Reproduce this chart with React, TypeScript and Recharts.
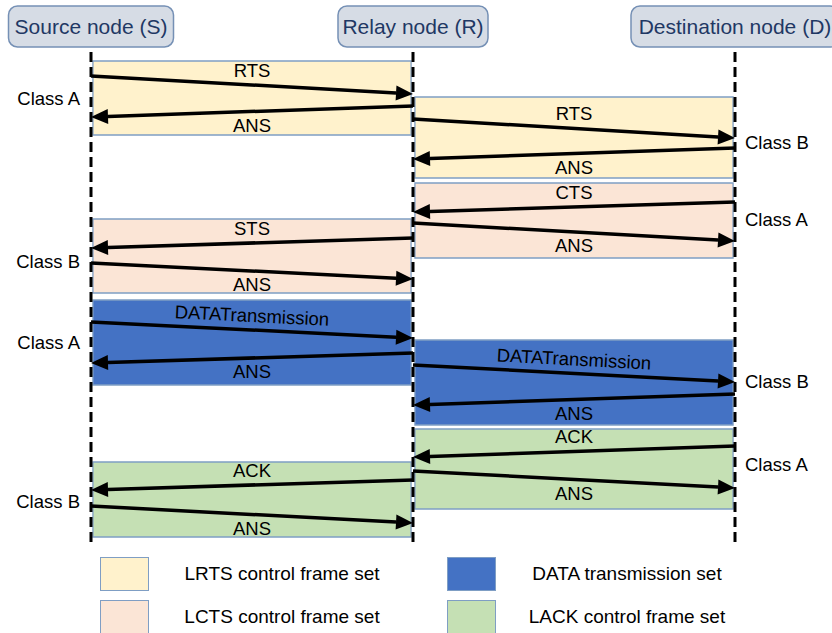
import React from "react";
import {
  ComposedChart,
  XAxis,
  YAxis,
  ReferenceArea,
  ReferenceLine,
  Scatter,
  Legend,
} from "recharts";

const FONT = "'Liberation Sans', Arial, sans-serif";

// lifelines, left to right
const nodes = ["Source node (S)", "Relay node (R)", "Destination node (D)"];

// legend entries (frame sets)
const setKeys = ["LRTS", "LCTS", "DATA", "LACK"];
const setNames = [
  "LRTS control frame set",
  "LCTS control frame set",
  "DATA transmission set",
  "LACK control frame set",
];

// one shaded box per exchange, time runs downwards
const exchanges = [
  { set: "LRTS", from: 0, to: 1, start: 61, end: 135 },
  { set: "LRTS", from: 1, to: 2, start: 97, end: 178 },
  { set: "LCTS", from: 1, to: 2, start: 183, end: 258 },
  { set: "LCTS", from: 0, to: 1, start: 219, end: 293 },
  { set: "DATA", from: 0, to: 1, start: 300, end: 385 },
  { set: "DATA", from: 1, to: 2, start: 340, end: 425 },
  { set: "LACK", from: 1, to: 2, start: 429, end: 509 },
  { set: "LACK", from: 0, to: 1, start: 462, end: 537 },
];

// messages: exchange index, sender, receiver, send time, receive time
const messages = [
  { ex: 0, from: 0, to: 1, sent: 76, recv: 94, label: "RTS" },
  { ex: 0, from: 1, to: 0, sent: 106, recv: 117, label: "ANS" },
  { ex: 1, from: 1, to: 2, sent: 119, recv: 138, label: "RTS" },
  { ex: 1, from: 2, to: 1, sent: 148, recv: 159, label: "ANS" },
  { ex: 2, from: 2, to: 1, sent: 202, recv: 212, label: "CTS" },
  { ex: 2, from: 1, to: 2, sent: 223, recv: 241, label: "ANS" },
  { ex: 3, from: 1, to: 0, sent: 238, recv: 248, label: "STS" },
  { ex: 3, from: 0, to: 1, sent: 263, recv: 279, label: "ANS" },
  { ex: 4, from: 0, to: 1, sent: 322, recv: 338, label: "DATATransmission" },
  { ex: 4, from: 1, to: 0, sent: 353, recv: 363, label: "ANS" },
  { ex: 5, from: 1, to: 2, sent: 365, recv: 382, label: "DATATransmission" },
  { ex: 5, from: 2, to: 1, sent: 394, recv: 405, label: "ANS" },
  { ex: 6, from: 2, to: 1, sent: 446, recv: 457, label: "ACK" },
  { ex: 6, from: 1, to: 2, sent: 471, recv: 488, label: "ANS" },
  { ex: 7, from: 1, to: 0, sent: 480, recv: 490, label: "ACK" },
  { ex: 7, from: 0, to: 1, sent: 506, recv: 523, label: "ANS" },
];

// service class of each exchange, written beside the outer lifeline
const classes = [
  { x: 0, t: 99, label: "Class A" },
  { x: 2, t: 143, label: "Class B" },
  { x: 2, t: 220, label: "Class A" },
  { x: 0, t: 262, label: "Class B" },
  { x: 0, t: 343, label: "Class A" },
  { x: 2, t: 382, label: "Class B" },
  { x: 2, t: 465, label: "Class A" },
  { x: 0, t: 502, label: "Class B" },
];

const LIFELINE_START = 52;
const LIFELINE_END = 546;
const HEADER_T = 26.5;

const SET_COLORS: Record<string, string> = {
  LRTS: "#fff2cc",
  LCTS: "#fbe5d6",
  DATA: "#4472c4",
  LACK: "#c5e0b4",
};
const BOX_STROKE = "#7f9ec4";
const HEADER_W = [165, 150, 208];
const TILTED = new Set(["DATATransmission"]);
const INSET = 0.006;

const headerPoints = nodes.map((name, i) => ({ x: i, t: HEADER_T, name }));

const renderHeader = (p: any) => {
  const { cx, cy, payload } = p;
  const w = HEADER_W[payload.x];
  return (
    <g>
      <rect
        x={cx - w / 2}
        y={cy - 20.5}
        width={w}
        height={41}
        rx={9}
        fill="#d6dce5"
        stroke="#7590b5"
        strokeWidth={1.5}
      />
      <text
        x={cx}
        y={cy}
        dy="0.35em"
        textAnchor="middle"
        fontSize={21}
        fontFamily={FONT}
        fill="#1f3864"
      >
        {payload.name}
      </text>
    </g>
  );
};

const renderClass = (p: any) => {
  const { cx, cy, payload } = p;
  const left = payload.x === 0;
  return (
    <text
      x={left ? cx - 11 : cx + 10}
      y={cy}
      dy="0.35em"
      textAnchor={left ? "end" : "start"}
      fontSize={18.5}
      fontFamily={FONT}
      fill="#000"
    >
      {payload.label}
    </text>
  );
};

const arrowShape = (label: string, above: boolean) => (p: any) => {
  const { x1, y1, x2, y2 } = p;
  const dx = x2 - x1;
  const dy = y2 - y1;
  const len = Math.hypot(dx, dy);
  const ux = dx / len;
  const uy = dy / len;
  const head = 17;
  const half = 7.5;
  const bx = x2 - ux * head;
  const by = y2 - uy * head;
  const pts = `${x2},${y2} ${bx - uy * half},${by + ux * half} ${bx + uy * half},${by - ux * half}`;
  const mx = (x1 + x2) / 2;
  const my = (y1 + y2) / 2 + (above ? -14.5 : 14);
  const ang = TILTED.has(label)
    ? (Math.atan2(dx > 0 ? dy : -dy, Math.abs(dx)) * 180) / Math.PI
    : 0;
  return (
    <g>
      <line x1={x1} y1={y1} x2={bx} y2={by} stroke="#000" strokeWidth={3.5} />
      <polygon points={pts} fill="#000" />
      <text
        x={mx}
        y={my}
        dy="0.35em"
        textAnchor="middle"
        fontSize={18.5}
        fontFamily={FONT}
        fill="#000"
        transform={ang ? `rotate(${ang.toFixed(2)} ${mx} ${my})` : undefined}
      >
        {label}
      </text>
    </g>
  );
};

const renderLegend = () => (
  <div style={{ position: "relative", width: 832, height: 83, fontFamily: FONT }}>
    {setNames.map((name, i) => {
      const col = Math.floor(i / 2);
      const row = i % 2;
      const left = col === 0 ? 100 : 447;
      const textLeft = col === 0 ? 160 : 505;
      const top = 7 + row * 43;
      return (
        <React.Fragment key={name}>
          <div
            style={{
              position: "absolute",
              left,
              top,
              width: 49,
              height: 34,
              boxSizing: "border-box",
              background: SET_COLORS[setKeys[i]],
              border: `1.5px solid ${BOX_STROKE}`,
            }}
          />
          <div
            style={{
              position: "absolute",
              left: textLeft,
              top,
              width: 244,
              height: 34,
              display: "flex",
              alignItems: "center",
              justifyContent: "center",
              fontSize: 19,
              color: "#000",
              whiteSpace: "nowrap",
            }}
          >
            {name}
          </div>
        </React.Fragment>
      );
    })}
  </div>
);

export default function App() {
  return (
    <div style={{ position: "absolute", left: 0, top: 0, width: 832, height: 633, background: "#fff" }}>
      <ComposedChart
        width={832}
        height={633}
        margin={{ top: 0, right: 0, bottom: 0, left: 0 }}
      >
        <XAxis
          type="number"
          dataKey="x"
          domain={[-91 / 322, 741 / 322]}
          allowDataOverflow
          hide
        />
        <YAxis
          type="number"
          dataKey="t"
          domain={[0, 633]}
          reversed
          allowDataOverflow
          hide
        />
        {exchanges.map((e, i) => (
          <ReferenceArea
            key={`box-${i}`}
            x1={Math.min(e.from, e.to) + INSET}
            x2={Math.max(e.from, e.to) - INSET}
            y1={e.start}
            y2={e.end}
            fill={SET_COLORS[e.set]}
            fillOpacity={1}
            stroke={BOX_STROKE}
            strokeWidth={1.3}
          />
        ))}
        {nodes.map((n, i) => (
          <ReferenceLine
            key={`life-${i}`}
            segment={[
              { x: i, y: LIFELINE_START },
              { x: i, y: LIFELINE_END },
            ]}
            stroke="#000"
            strokeWidth={3}
            strokeDasharray="10 5"
          />
        ))}
        {messages.map((m, i) => {
          const above = messages.findIndex((o) => o.ex === m.ex) === i;
          return (
            <ReferenceLine
              key={`msg-${i}`}
              segment={[
                { x: m.from, y: m.sent },
                { x: m.to, y: m.recv },
              ]}
              shape={arrowShape(m.label, above)}
            />
          );
        })}
        <Scatter
          name="nodes"
          data={headerPoints}
          shape={renderHeader}
          isAnimationActive={false}
        />
        <Scatter
          name="classes"
          data={classes}
          shape={renderClass}
          isAnimationActive={false}
        />
        <Legend
          layout="horizontal"
          verticalAlign="middle"
          align="center"
          content={renderLegend}
          wrapperStyle={{ left: 0, top: 550, width: 832, height: 83 }}
        />
      </ComposedChart>
    </div>
  );
}
